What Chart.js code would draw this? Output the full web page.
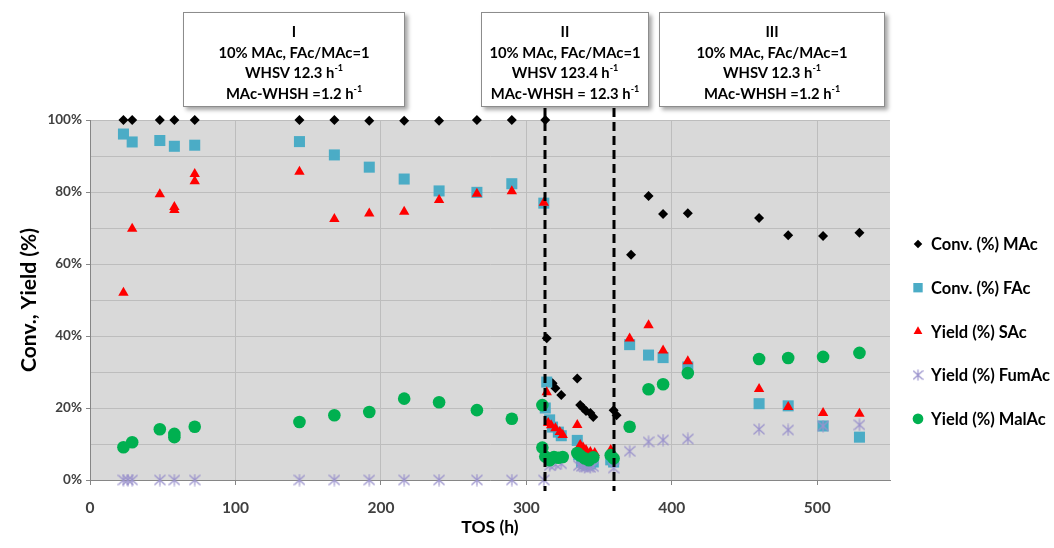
<!DOCTYPE html>
<html>
<head>
<meta charset="utf-8">
<script src="https://cdn.jsdelivr.net/npm/chart.js@4.4.1/dist/chart.umd.min.js"></script>
<style>
  html, body { margin: 0; padding: 0; background: #fff; }
  #wrap { position: relative; width: 1054px; height: 548px; font-family: Lato, "Open Sans", sans-serif; }
  #chart { position: absolute; left: 0; top: 0; }
  .box {
    position: absolute; top: 12px; height: 95px; box-sizing: border-box;
    background: #fff; border: 1px solid #8c8c8c;
    box-shadow: 3px 3px 4px rgba(0,0,0,0.35);
    text-align: center; font-weight: bold; font-size: 14.8px; line-height: 20.7px;
    padding-top: 8px; color: #000;
  }
  .box sup { font-size: 9px; line-height: 0; position: relative; top: -1px; }
</style>
</head>
<body>
<div id="wrap">
  <canvas id="chart" width="1054" height="548"></canvas>
  <div class="box" style="left:183px;width:222px">I<br>10% MAc, FAc/MAc=1<br>WHSV 12.3 h<sup>-1</sup><br>MAc-WHSH =1.2 h<sup>-1</sup></div>
  <div class="box" style="left:481px;width:168px">II<br>10% MAc, FAc/MAc=1<br>WHSV 123.4 h<sup>-1</sup><br>MAc-WHSH = 12.3 h<sup>-1</sup></div>
  <div class="box" style="left:659px;width:226px">III<br>10% MAc, FAc/MAc=1<br>WHSV 12.3 h<sup>-1</sup><br>MAc-WHSH =1.2 h<sup>-1</sup></div>
</div>
<script>
// --- data ---
const tosMAc  = [23, 29, 48, 58, 72, 144, 168, 192, 216, 240, 266, 290, 313, 314, 318, 320, 324, 335, 337, 339, 341, 344, 346, 360, 362, 372, 384, 394, 411, 460, 480, 504, 529];
const convMAc = [100, 100, 100, 100, 100, 100, 100, 99.8, 99.8, 99.8, 100, 100, 100, 39.4, 26.9, 25.5, 23.6, 28.2, 20.8, 20, 19.2, 18.6, 17.5, 19.4, 18, 62.6, 78.9, 73.9, 74.1, 72.8, 68, 67.8, 68.7];

const tosFAc  = [23, 29, 48, 58, 72, 144, 168, 192, 216, 240, 266, 290, 312, 314, 313, 316, 318, 322, 324, 335, 336, 338, 340, 342, 344, 346, 358, 360, 371, 384, 394, 411, 460, 480, 504, 529];
const convFAc = [96.1, 93.9, 94.3, 92.7, 93, 94, 90.3, 86.9, 83.6, 80.3, 79.9, 82.3, 76.9, 27.2, 20, 16.7, 14.7, 13.3, 12.3, 11, 7, 5, 4.5, 4.2, 4.5, 5, 5.6, 5, 37.6, 34.7, 34, 31.4, 21.2, 20.6, 15, 11.9];

const tosSAc   = [23, 29, 48, 58, 58, 72, 72, 144, 168, 192, 216, 240, 266, 290, 312, 314, 315, 317, 320, 323, 325, 335, 337, 339, 341, 344, 347, 358, 360, 371, 384, 394, 411, 460, 480, 504, 529];
const yieldSAc = [52, 69.8, 79.4, 75.8, 75, 85, 83, 85.6, 72.5, 74, 74.5, 77.8, 79.5, 80.2, 77, 24.4, 15.8, 15.2, 14.4, 13.3, 12.5, 15.3, 9.7, 9, 8.3, 7.8, 7.5, 8.3, 7, 39.3, 43, 36, 33, 25.3, 20.3, 18.6, 18.4];

const tosFumAc   = [23, 26, 29, 48, 58, 72, 144, 168, 192, 216, 240, 266, 290, 312, 316, 320, 324, 336, 338, 340, 342, 344, 346, 360, 371, 384, 394, 411, 460, 480, 504, 529];
const yieldFumAc = [0, 0, 0, 0, 0, 0, 0, 0, 0, 0, 0, 0, 0, 0, 4, 4.3, 4.5, 4, 3.8, 3.6, 3.8, 3.5, 3.7, 3.3, 8, 10.6, 11.1, 11.4, 14.1, 13.9, 15, 15.3];

const tosMalAc   = [23, 29, 48, 58, 58, 72, 144, 168, 192, 216, 240, 266, 290, 311, 311, 313, 316, 319, 322, 325, 335, 337, 340, 343, 346, 358, 360, 371, 384, 394, 411, 460, 480, 504, 529];
const yieldMalAc = [9.1, 10.5, 14.1, 12.8, 11.9, 14.8, 16.1, 18, 18.9, 22.6, 21.6, 19.4, 17, 20.8, 9, 6.5, 5.5, 6.4, 6.2, 6.4, 7.5, 6.8, 6, 5.5, 6.3, 6.9, 6, 14.8, 25.2, 26.6, 29.7, 33.6, 33.9, 34.2, 35.3];

const seriesNames = ['Conv. (%) MAc', 'Conv. (%) FAc', 'Yield (%) SAc', 'Yield (%) FumAc', 'Yield (%) MalAc'];
const xTicks = [0, 100, 200, 300, 400, 500];
const yGrid = [0, 10, 20, 30, 40, 50, 60, 70, 80, 90, 100];
const yLabels = [0, 20, 40, 60, 80, 100];
const phaseLines = [313, 360];   // changes of feed conditions (TOS, h)

const pts = (xs, ys) => xs.map((x, i) => ({ x: x, y: ys[i] }));

// 6-armed asterisk like Excel's marker
function asterisk(w, h, color) {
  const c = document.createElement('canvas');
  c.width = w; c.height = h;
  const g = c.getContext('2d');
  g.strokeStyle = color;
  g.lineWidth = 1.2;
  g.beginPath();
  g.moveTo(w / 2, 0.5); g.lineTo(w / 2, h - 0.5);
  g.moveTo(0.5, 1.5); g.lineTo(w - 0.5, h - 1.5);
  g.moveTo(w - 0.5, 1.5); g.lineTo(0.5, h - 1.5);
  g.stroke();
  return c;
}
const starImg = asterisk(12, 13, '#9a92cc');
const starImgSmall = asterisk(11, 12, '#9a92cc');

const bold = (size) => ({ family: 'Lato', size: size, weight: 'bold' });

// grey plot area
const plotBg = {
  id: 'plotBg',
  beforeDraw(chart) {
    const { ctx, chartArea: a } = chart;
    ctx.save();
    ctx.fillStyle = '#d9d9d9';
    ctx.fillRect(a.left, a.top, a.right - a.left, a.bottom - a.top);
    ctx.restore();
  }
};

// dashed vertical lines between the phases
const phaseMarks = {
  id: 'phaseMarks',
  afterDatasetsDraw(chart) {
    const { ctx, chartArea: a, scales } = chart;
    ctx.save();
    ctx.strokeStyle = '#000';
    ctx.lineWidth = 3;
    ctx.setLineDash([9, 5]);
    phaseLines.forEach(v => {
      const px = Math.round(scales.x.getPixelForValue(v));
      ctx.beginPath();
      ctx.moveTo(px, a.top - 12);
      ctx.lineTo(px, a.bottom + 11);
      ctx.stroke();
    });
    ctx.restore();
  }
};

// legend on the right, one row per series
const sideLegend = {
  id: 'sideLegend',
  afterDraw(chart) {
    const ctx = chart.ctx;
    ctx.save();
    ctx.font = 'bold 16.5px Lato';
    ctx.textBaseline = 'middle';
    chart.data.datasets.forEach((ds, i) => {
      const y = 244 + i * 43.7;
      ctx.fillStyle = ds.backgroundColor;
      ctx.strokeStyle = ds.borderColor;
      ctx.lineWidth = 1;
      const style = ds.legendStyle || ds.pointStyle;
      Chart.helpers.drawPoint(ctx, { pointStyle: style, radius: ds.pointRadius * 0.85, rotation: 0, borderWidth: 0 }, 918, y);
      ctx.fillStyle = '#000';
      ctx.fillText(ds.label, 931, y + 1);
    });
    ctx.restore();
  }
};

new Chart(document.getElementById('chart'), {
  type: 'scatter',
  data: {
    datasets: [
      { label: seriesNames[0], data: pts(tosMAc, convMAc), pointStyle: 'rectRot', pointRadius: 5,
        backgroundColor: '#000', borderColor: '#000', borderWidth: 0, order: 5 },
      { label: seriesNames[1], data: pts(tosFAc, convFAc), pointStyle: 'rect', pointRadius: 7.8,
        backgroundColor: '#4bacc6', borderColor: '#4bacc6', borderWidth: 0, order: 4 },
      { label: seriesNames[2], data: pts(tosSAc, yieldSAc), pointStyle: 'triangle', pointRadius: 6,
        backgroundColor: '#ff0000', borderColor: '#ff0000', borderWidth: 0, order: 3 },
      { label: seriesNames[3], data: pts(tosFumAc, yieldFumAc), pointStyle: starImg, legendStyle: starImgSmall, pointRadius: 6,
        backgroundColor: '#9a92cc', borderColor: '#9a92cc', borderWidth: 0, order: 2 },
      { label: seriesNames[4], data: pts(tosMalAc, yieldMalAc), pointStyle: 'circle', pointRadius: 6.3,
        backgroundColor: '#00b050', borderColor: '#00b050', borderWidth: 0, order: 1 }
    ]
  },
  options: {
    responsive: false,
    devicePixelRatio: 1,
    animation: false,
    clip: false,
    layout: { padding: { top: 120, right: 164, left: 0, bottom: 0 } },
    plugins: {
      legend: { display: false },
      tooltip: { enabled: false }
    },
    elements: { point: { hoverRadius: 6 } },
    scales: {
      x: {
        type: 'linear', min: 0, max: 550,
        afterBuildTicks: s => { s.ticks = xTicks.map(v => ({ value: v })); },
        afterFit: s => { s.height = 68; },
        ticks: { font: bold(15.5), color: '#404040', padding: 14, includeBounds: false },
        grid: { color: '#bdbdbd', tickColor: '#868686', tickLength: 5 },
        border: { display: true, color: '#868686' },
        title: { display: true, text: 'TOS (h)', font: bold(17.5), color: '#000', padding: { top: 0, bottom: 10 } }
      },
      y: {
        type: 'linear', min: 0, max: 100,
        afterBuildTicks: s => { s.ticks = yGrid.map(v => ({ value: v })); },
        afterFit: s => { s.width = 90; },
        ticks: {
          font: bold(13.5), color: '#404040', padding: 4,
          callback: v => yLabels.includes(v) ? v + '%' : ''
        },
        grid: {
          color: '#bdbdbd', tickLength: 4,
          tickColor: c => (c.tick && yLabels.includes(c.tick.value)) ? '#868686' : 'rgba(0,0,0,0)'
        },
        border: { display: true, color: '#868686' },
        title: { display: true, text: 'Conv., Yield (%)', font: bold(21), color: '#000', padding: { top: 17, bottom: 0 } }
      }
    }
  },
  plugins: [plotBg, phaseMarks, sideLegend]
});
</script>
</body>
</html>
